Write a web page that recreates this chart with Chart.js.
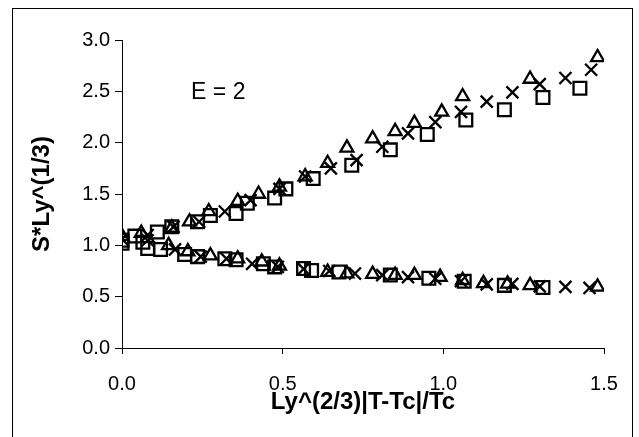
<!DOCTYPE html>
<html>
<head>
<meta charset="utf-8">
<script src="https://cdn.jsdelivr.net/npm/chart.js@4/dist/chart.umd.min.js"></script>
<style>
  body { margin: 0; background: #fff; }
</style>
</head>
<body>
<canvas id="chart" width="639" height="437"></canvas>
<script>
// triangles (upper branch then lower branch)
const triX = [0.00, 0.06, 0.155, 0.21, 0.27, 0.36, 0.425, 0.49, 0.57, 0.64, 0.70, 0.78, 0.85, 0.91, 0.995, 1.06, 1.27, 1.48,
              0.145, 0.205, 0.275, 0.36, 0.435, 0.49, 0.64, 0.70, 0.78, 0.85, 0.91, 0.99, 1.06, 1.125, 1.20, 1.27, 1.48];
const triY = [1.09, 1.12, 1.17, 1.23, 1.33, 1.43, 1.50, 1.57, 1.67, 1.80, 1.95, 2.04, 2.11, 2.19, 2.30, 2.45, 2.62, 2.83,
              1.00, 0.94, 0.90, 0.87, 0.84, 0.80, 0.74, 0.725, 0.72, 0.71, 0.71, 0.69, 0.66, 0.63, 0.625, 0.61, 0.595];

// crosses
const crossX = [0.00, 0.08, 0.16, 0.24, 0.32, 0.40, 0.49, 0.57, 0.65, 0.73, 0.81, 0.89, 0.975, 1.055, 1.135, 1.215, 1.30, 1.38, 1.46,
                0.08, 0.165, 0.245, 0.325, 0.405, 0.485, 0.565, 0.645, 0.725, 0.81, 0.89, 0.975, 1.055, 1.135, 1.215, 1.30, 1.38, 1.455];
const crossY = [1.06, 1.10, 1.18, 1.23, 1.33, 1.44, 1.55, 1.67, 1.75, 1.83, 1.96, 2.09, 2.20, 2.30, 2.40, 2.49, 2.57, 2.63, 2.71,
                1.05, 0.96, 0.89, 0.87, 0.82, 0.79, 0.77, 0.75, 0.725, 0.71, 0.69, 0.675, 0.65, 0.62, 0.625, 0.60, 0.595, 0.585];

// squares
const squareX = [0.00, 0.04, 0.11, 0.155, 0.235, 0.275, 0.355, 0.39, 0.475, 0.51, 0.595, 0.715, 0.835, 0.95, 1.07, 1.19, 1.31, 1.425,
                 0.00, 0.065, 0.08, 0.12, 0.195, 0.235, 0.32, 0.355, 0.44, 0.475, 0.565, 0.59, 0.675, 0.835, 0.955, 1.065, 1.19, 1.31];
const squareY = [1.05, 1.09, 1.13, 1.18, 1.23, 1.29, 1.31, 1.41, 1.46, 1.55, 1.65, 1.78, 1.93, 2.08, 2.22, 2.32, 2.44, 2.53,
                 1.02, 1.03, 0.97, 0.96, 0.91, 0.89, 0.87, 0.86, 0.82, 0.79, 0.775, 0.755, 0.74, 0.71, 0.68, 0.65, 0.61, 0.59];

const xTicks = [0, 0.5, 1.0, 1.5];
const yTicks = [0, 0.5, 1.0, 1.5, 2.0, 2.5, 3.0];
const note = 'E = 2';

const FONT = '"Liberation Sans", Arial, sans-serif';

function toPoints(xs, ys) {
    return xs.map(function(x, i){ return { x: x, y: ys[i] }; });
}

const frame = {
    id: 'frame',
    afterDraw: function(chart) {
        const ctx = chart.ctx;
        ctx.save();
        ctx.strokeStyle = '#000';
        ctx.lineWidth = 1;
        ctx.strokeRect(12.5, 8.5, 620, 440);
        ctx.fillStyle = '#000';
        ctx.font = '23px ' + FONT;
        ctx.textBaseline = 'middle';
        ctx.textAlign = 'left';
        ctx.fillText(note, chart.scales.x.getPixelForValue(0.215), chart.scales.y.getPixelForValue(2.49));
        ctx.restore();
    }
};

const markerStyle = {
    backgroundColor: 'rgba(0,0,0,0)',
    borderColor: '#000',
    borderWidth: 2.3,
    pointHoverRadius: 8
};

new Chart(document.getElementById('chart').getContext('2d'), {
    type: 'scatter',
    data: {
        datasets: [
            Object.assign({ label: 'triangle', data: toPoints(triX, triY), pointStyle: 'triangle', pointRadius: 7.5 }, markerStyle),
            Object.assign({ label: 'cross', data: toPoints(crossX, crossY), pointStyle: 'crossRot', pointRadius: 8.5 }, markerStyle),
            Object.assign({ label: 'square', data: toPoints(squareX, squareY), pointStyle: 'rect', pointRadius: 9 }, markerStyle)
        ]
    },
    options: {
        responsive: false,
        animation: false,
        layout: { padding: { left: 0, top: 40, right: 35, bottom: 0 } },
        plugins: { legend: { display: false }, tooltip: { enabled: false } },
        scales: {
            x: {
                type: 'linear',
                min: 0, max: 1.5,
                afterBuildTicks: function(axis){ axis.ticks = xTicks.map(function(v){ return { value: v }; }); },
                afterFit: function(axis){ axis.height = 89; },
                border: { color: '#000', width: 1 },
                grid: { drawOnChartArea: false, drawTicks: true, tickLength: 6, color: '#000' },
                ticks: {
                    color: '#000', padding: 18,
                    font: { family: FONT, size: 20 },
                    callback: function(v){ return Number(v).toFixed(1); }
                },
                title: {
                    display: true, text: 'Ly^(2/3)|T-Tc|/Tc', color: '#000',
                    font: { family: FONT, size: 24, weight: 'bold' },
                    padding: { top: 0, bottom: 20 }
                }
            },
            y: {
                type: 'linear',
                min: 0, max: 3,
                afterBuildTicks: function(axis){ axis.ticks = yTicks.map(function(v){ return { value: v }; }); },
                afterFit: function(axis){ axis.width = 122; },
                border: { color: '#000', width: 1 },
                grid: { drawOnChartArea: false, drawTicks: true, tickLength: 7, color: '#000' },
                ticks: {
                    color: '#000', padding: 5,
                    font: { family: FONT, size: 20 },
                    callback: function(v){ return Number(v).toFixed(1); }
                },
                title: {
                    display: true, text: 'S*Ly^(1/3)', color: '#000',
                    font: { family: FONT, size: 24, weight: 'bold' },
                    padding: { top: 28, bottom: 0 }
                }
            }
        }
    },
    plugins: [frame]
});
</script>
</body>
</html>
